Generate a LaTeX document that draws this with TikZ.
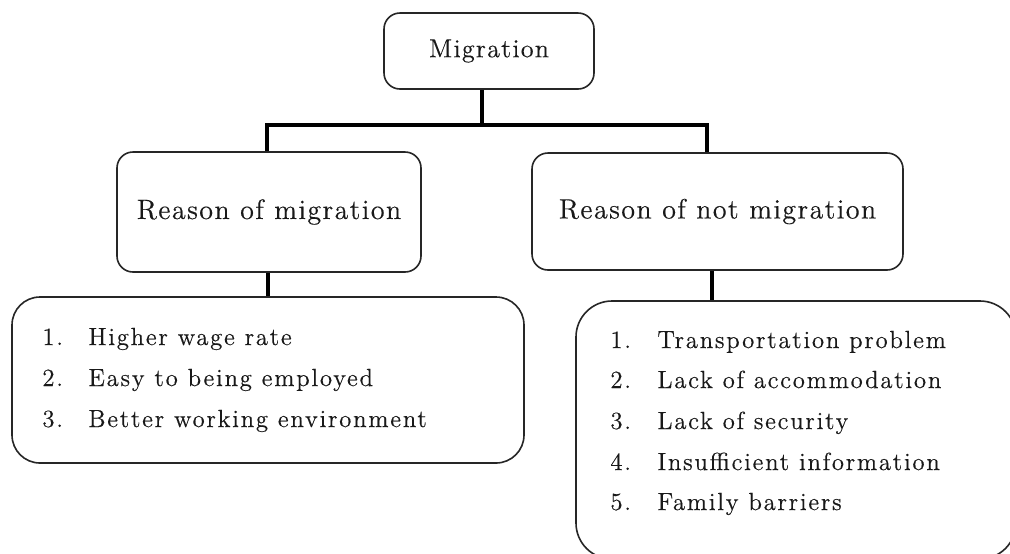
\documentclass[tikz,border=0pt]{standalone}
\usepackage{fontspec}
\setmainfont{lmroman10-regular.otf}
\newfontfamily\hdrfont{lmroman12-regular.otf}[LetterSpace=5, FakeBold=0.3]
\newfontfamily\lstfont{lmroman12-regular.otf}[LetterSpace=7, FakeBold=0.35]
\begin{document}
\begin{tikzpicture}[x=0.5pt,y=-0.5pt,
  box/.style={draw=black!85, line width=0.8pt, rounded corners=8pt, inner sep=0pt, fill=white},
  hdr/.style={font=\hdrfont\fontsize{14}{16}\selectfont, text=black!90},
  item/.style={font=\lstfont\fontsize{12.4}{14}\selectfont, text=black!90, inner sep=0pt, anchor=base west},
  conn/.style={line width=1.6pt, black}]
\useasboundingbox[fill=white] (0,0) rectangle (1010,553);

% header boxes
\node[box, hdr, font=\hdrfont\fontsize{13}{15}\selectfont, minimum width=105pt, minimum height=38pt] (mig) at (489,51) {Migration};
\node[box, hdr, minimum width=152pt, minimum height=60pt] (lh) at (269,212) {Reason of migration};
\node[box, hdr, minimum width=185.5pt, minimum height=58.5pt] (rh) at (717.5,211.5) {Reason of not migration};

% list boxes
\node[box, rounded corners=14pt, minimum width=256pt, minimum height=83pt] (ll) at (268,380) {};
\node[box, rounded corners=18pt, minimum width=220pt, minimum height=129pt] (rl) at (796,430) {};

% list items
\node[item] (l1) at (42,345) {\makebox[23pt][l]{1.}Higher wage rate};
\node[item] (l2) at (42,386) {\makebox[23pt][l]{2.}Easy to being employed};
\node[item] (l3) at (42,427) {\makebox[23pt][l]{3.}Better working environment};

\node[item] (r1) at (610,348) {\makebox[23.5pt][l]{1.}Transportation problem};
\node[item] (r2) at (610,388) {\makebox[23.5pt][l]{2.}Lack of accommodation};
\node[item] (r3) at (610,429) {\makebox[23.5pt][l]{3.}Lack of security};
\node[item] (r4) at (610,470) {\makebox[23.5pt][l]{4.}Insufficient information};
\node[item] (r5) at (610,510) {\makebox[23.5pt][l]{5.}Family barriers};

% connectors
\coordinate (bm) at (482,125);
\coordinate (bl) at (267,125);
\coordinate (br) at (707,125);
\coordinate (cl) at (268,0);
\coordinate (cr) at (712,0);
\draw[conn] (bm |- mig.south) -- (bm);
\draw[conn] (lh.north -| bl) -- (bl) -- (br) -- (rh.north -| br);
\draw[conn] (lh.south -| cl) -- (ll.north -| cl);
\draw[conn] (rh.south -| cr) -- (rl.north -| cr);
\end{tikzpicture}
\end{document}
